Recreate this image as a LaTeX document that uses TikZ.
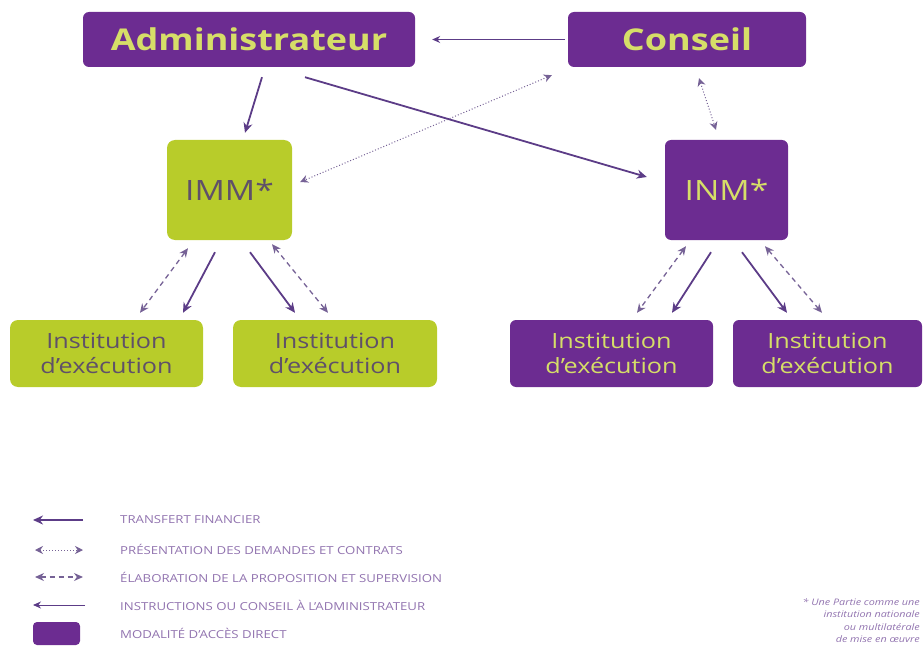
\documentclass[tikz,border=0pt]{standalone}
\usepackage{fontspec}
\setmainfont[FakeStretch=1.2]{Open Sans}
\usetikzlibrary{arrows.meta,calc}
\definecolor{purp}{RGB}{108,44,145}
\definecolor{lime}{RGB}{184,204,42}
\definecolor{ltxt}{RGB}{214,222,104}
\definecolor{dtxt}{RGB}{95,80,105}
\definecolor{arr}{RGB}{92,60,135}
\definecolor{arrl}{RGB}{118,98,150}
\definecolor{legt}{RGB}{145,115,175}
\tikzset{
  pbox/.style={draw=none,fill=purp,rounded corners=6pt,text=ltxt,inner sep=0pt,align=center},
  lbox/.style={draw=none,fill=lime,rounded corners=8pt,text=dtxt,inner sep=0pt,align=center},
  fin/.style={draw=arr,line width=1.8pt,-{Stealth[length=10pt,width=9pt]}},
  instr/.style={draw=arr,line width=1pt,-{Stealth[length=8pt,width=7pt]}},
  pres/.style={draw=arrl,line width=1pt,dotted,{Stealth[length=8pt,width=8pt]}-{Stealth[length=8pt,width=8pt]}},
  elab/.style={draw=arrl,line width=1.3pt,dash pattern=on 5pt off 4pt,{Stealth[length=9pt,width=8pt]}-{Stealth[length=9pt,width=8pt]}},
  legtext/.style={anchor=west,text=legt,font=\fontsize{11}{13}\selectfont,inner sep=0pt},
  insttxt/.style={font=\fontsize{21}{25}\selectfont},
  titletxt/.style={font=\fontsize{30}{34}\selectfont\bfseries},
  midtxt/.style={font=\fontsize{28}{30}\selectfont},
}
\begin{document}
\begin{tikzpicture}[x=1pt,y=-1pt]
\useasboundingbox (0,0) rectangle (924,650);
% nodes
\node[pbox,titletxt,minimum width=332pt,minimum height=55pt] (adm) at (249,39.5) {Administrateur};
\node[pbox,titletxt,minimum width=238pt,minimum height=55pt] (con) at (687,39.5) {Conseil};
\node[lbox,midtxt,minimum width=125pt,minimum height=100pt] (imm) at (229.5,190) {IMM*};
\node[pbox,midtxt,minimum width=123pt,minimum height=100pt] (inm) at (726.5,190) {INM*};
\node[lbox,insttxt,minimum width=193pt,minimum height=67pt] (i1) at (106.5,353.5) {Institution\\d'exécution};
\node[lbox,insttxt,minimum width=204pt,minimum height=67pt] (i2) at (335,353.5) {Institution\\d'exécution};
\node[pbox,insttxt,minimum width=203pt,minimum height=67pt] (i3) at (611.5,353.5) {Institution\\d'exécution};
\node[pbox,insttxt,minimum width=189pt,minimum height=67pt] (i4) at (827.5,353.5) {Institution\\d'exécution};
% connectors top
\draw[instr] ($(con.west)+(-3,0)$) -- ($(adm.east)+(17,0)$);
\draw[fin] ($(adm.south)+(13,10)$) -- ($(imm.north)+(15.5,-7)$);
\draw[fin] ($(adm.south)+(56,10)$) -- ($(inm.west)+(-18,-13)$);
\draw[pres] ($(con.south west)+(-16,8)$) -- ($(imm.east)+(8,-8)$);
\draw[pres] ($(con.south)+(12,11)$) -- ($(inm.north)+(-10.5,-10)$);
% below IMM
\draw[elab] ($(imm.south)+(-41.5,8)$) -- ($(i1.north)+(33.5,-7)$);
\draw[fin] ($(imm.south)+(-14.5,12)$) -- ($(i1.north)+(76.5,-7)$);
\draw[fin] ($(imm.south)+(20.5,12)$) -- ($(i2.north)+(-40,-7)$);
\draw[elab] ($(imm.south)+(42.5,4)$) -- ($(i2.north)+(-7,-7)$);
% below INM
\draw[elab] ($(inm.south)+(-40.5,6)$) -- ($(i3.north)+(25.5,-7)$);
\draw[fin] ($(inm.south)+(-15.5,12)$) -- ($(i3.north)+(60.5,-7)$);
\draw[fin] ($(inm.south)+(15.5,12)$) -- ($(i4.north)+(-40.5,-7)$);
\draw[elab] ($(inm.south)+(38.5,6)$) -- ($(i4.north)+(-5.5,-7)$);
% legend
\coordinate (l1a) at (83,520); \coordinate (l1b) at (33,520);
\coordinate (l2a) at (35,550); \coordinate (l2b) at (83,550);
\coordinate (l3a) at (35,577); \coordinate (l3b) at (83,577);
\coordinate (l4a) at (85,605); \coordinate (l4b) at (33,605);
\draw[fin] (l1a) -- (l1b);
\draw[pres] (l2a) -- (l2b);
\draw[elab] (l3a) -- (l3b);
\draw[instr] (l4a) -- (l4b);
\node[pbox,minimum width=47pt,minimum height=23pt,rounded corners=4pt] (lbx) at (56.5,633.5) {};
\node[legtext] (t1) at (120,520) {TRANSFERT FINANCIER};
\node[legtext] (t2) at (120,549) {PRÉSENTATION DES DEMANDES ET CONTRATS};
\node[legtext] (t3) at (120,577) {ÉLABORATION DE LA PROPOSITION ET SUPERVISION};
\node[legtext] (t4) at (120,605) {INSTRUCTIONS OU CONSEIL À L'ADMINISTRATEUR};
\node[legtext] (t5) at (120,633) {MODALITÉ D'ACCÈS DIRECT};
% footnote
\node[anchor=north east,align=right,text=legt,font=\fontsize{9}{12.5}\selectfont\itshape,inner sep=0pt] (fn) at (920,598) {* Une Partie comme une\\institution nationale\\ou multilatérale\\de mise en œuvre};
\end{tikzpicture}
\end{document}
